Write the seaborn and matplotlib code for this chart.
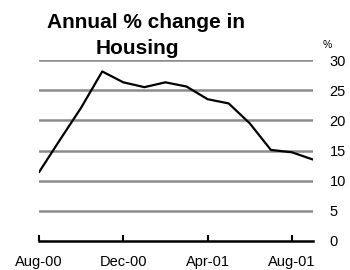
import matplotlib
matplotlib.use("Agg")
import matplotlib.pyplot as plt
import seaborn as sns
import pandas as pd

months = ["Aug-00", "Sep-00", "Oct-00", "Nov-00", "Dec-00", "Jan-01", "Feb-01",
          "Mar-01", "Apr-01", "May-01", "Jun-01", "Jul-01", "Aug-01", "Sep-01"]
housing = [11.4, 16.8, 22.1, 28.1, 26.3, 25.5, 26.3, 25.6, 23.5, 22.8,
           19.5, 15.1, 14.7, 13.5]
tick_labels = ["Aug-00", "Dec-00", "Apr-01", "Aug-01"]
y_ticks = [0, 5, 10, 15, 20, 25, 30]

df = pd.DataFrame({"idx": range(len(months)), "value": housing})

sns.set_style("white")
plt.rcParams["font.family"] = ["Liberation Sans", "DejaVu Sans"]

fig = plt.figure(figsize=(3.5, 2.7), dpi=100)
ax = fig.add_axes([39 / 350, 29 / 270, 274 / 350, 181 / 270])

for v in y_ticks[1:]:
    ax.axhline(v, color="#8c8c8c", lw=1.8, zorder=1)

sns.lineplot(data=df, x="idx", y="value", color="black", lw=1.6, ax=ax, zorder=3)

ax.set_xlim(0, len(months) - 1)
ax.set_ylim(0, 30)
ax.set_xlabel("")
ax.set_ylabel("")

ax.set_xticks([months.index(m) for m in tick_labels])
ax.set_xticklabels(tick_labels, fontsize=10.5, color="black")
ax.tick_params(axis="x", bottom=True, direction="in", length=4, width=1.5,
               color="black", pad=10)

ax.yaxis.tick_right()
ax.set_yticks(y_ticks)
ax.set_yticklabels([str(v) for v in y_ticks], fontsize=10.5, color="black")
ax.tick_params(axis="y", length=0, pad=12)

for s in ["top", "left", "right"]:
    ax.spines[s].set_visible(False)
ax.spines["bottom"].set_color("black")
ax.spines["bottom"].set_linewidth(1.8)
ax.spines["bottom"].set_zorder(4)

fig.text(146 / 350, 1 - 22 / 270, "Annual % change in", ha="center", va="center",
         fontsize=15, fontweight="bold", color="black")
fig.text(137 / 350, 1 - 48 / 270, "Housing", ha="center", va="center",
         fontsize=15, fontweight="bold", color="black")
fig.text(327 / 350, 1 - 45 / 270, "%", ha="center", va="center", fontsize=7.5,
         color="black")

fig.savefig("out.png", dpi=100)
